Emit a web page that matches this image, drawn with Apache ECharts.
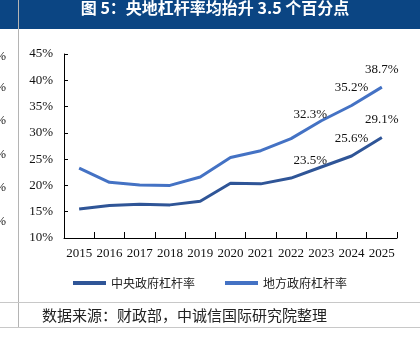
<!DOCTYPE html>
<html>
<head>
<meta charset="utf-8">
<script src="https://cdn.jsdelivr.net/npm/echarts@6/dist/echarts.min.js"></script>
<style>
  html, body { margin: 0; padding: 0; background: #fff; }
  #chart { width: 420px; height: 346px; }
</style>
</head>
<body>
<div id="chart"></div>
<script>
// Years on the category axis
const years = ['2015', '2016', '2017', '2018', '2019', '2020', '2021', '2022', '2023', '2024', '2025'];
// Government leverage ratios (%)
const centralRatio = [15.5, 16.2, 16.4, 16.3, 17.0, 20.4, 20.3, 21.4, 23.5, 25.6, 29.1];
const localRatio = [23.3, 20.6, 20.1, 20.0, 21.6, 25.3, 26.6, 28.9, 32.3, 35.2, 38.7];
// Points that carry a value label
const labelledYears = ['2023', '2024', '2025'];
const seriesNames = ['中央政府杠杆率', '地方政府杠杆率'];
const titleText = '图 5：央地杠杆率均抬升 3.5 个百分点';
const sourceText = '数据来源：财政部，中诚信国际研究院整理';
// Fragments of the neighbouring panel's axis labels at the left edge
const edgeLabels = ['%', '%', '%', '%', '%', '%'];

const serif = '"Liberation Serif", "Times New Roman", serif';
const cjk = '"Noto Sans CJK SC", sans-serif';

function labelled(values) {
  return values.map((v, i) => {
    const item = { value: v };
    if (labelledYears.includes(years[i])) {
      item.label = {
        show: true,
        offset: years[i] === '2023' ? [-11, 4] : [0, -7]
      };
    }
    return item;
  });
}

const chart = echarts.init(document.getElementById('chart'));

const graphics = [
  { type: 'rect', shape: { x: 0, y: 0, width: 420, height: 29 }, style: { fill: '#0B4583' }, silent: true },
  { type: 'text', x: 215, y: 8, style: { text: titleText, fill: '#fff', font: 'bold 16px ' + cjk, textAlign: 'center', textVerticalAlign: 'middle' } },
  { type: 'line', shape: { x1: 18.5, y1: 0, x2: 18.5, y2: 327 }, style: { stroke: '#b4b4b4', lineWidth: 1 } },
  { type: 'line', shape: { x1: 0, y1: 302.5, x2: 420, y2: 302.5 }, style: { stroke: '#c8c8c8', lineWidth: 1 } },
  { type: 'line', shape: { x1: 0, y1: 327.5, x2: 420, y2: 327.5 }, style: { stroke: '#c8c8c8', lineWidth: 1 } },
  { type: 'text', x: 42, y: 315, style: { text: sourceText, fill: '#222', font: '15px ' + cjk, textVerticalAlign: 'middle' } }
];
const edgeY = [57, 88, 121, 155, 188, 222];
edgeLabels.forEach((t, i) => {
  graphics.push({ type: 'text', x: 6, y: edgeY[i], style: { text: t, fill: '#222', font: '13px ' + serif, textAlign: 'right', textVerticalAlign: 'middle' } });
});

const valueLabel = { show: false, position: 'top', distance: 4, color: '#111', fontFamily: serif, fontSize: 13, formatter: p => p.value.toFixed(1) + '%' };

chart.setOption({
  animation: false,
  grid: { left: 64, right: 23, top: 54, bottom: 108 },
  legend: {
    bottom: 52,
    left: 'center',
    itemGap: 30,
    itemWidth: 33,
    itemHeight: 4,
    icon: 'rect',
    textStyle: { fontFamily: cjk, fontSize: 12, color: '#222' },
    data: seriesNames
  },
  xAxis: {
    type: 'category',
    data: years,
    boundaryGap: true,
    axisLine: { lineStyle: { color: '#000', width: 1 } },
    axisTick: { show: true, inside: true, length: 6, lineStyle: { color: '#000' } },
    axisLabel: { color: '#111', fontFamily: serif, fontSize: 13, margin: 9, interval: 0 }
  },
  yAxis: {
    type: 'value',
    min: 10,
    max: 45,
    interval: 5,
    axisLine: { show: true, lineStyle: { color: '#000', width: 1 } },
    axisTick: { show: true, inside: true, length: 4, lineStyle: { color: '#000' } },
    splitLine: { show: false },
    axisLabel: { color: '#111', fontFamily: serif, fontSize: 13, margin: 11, formatter: '{value}%' }
  },
  series: [
    {
      name: seriesNames[0],
      type: 'line',
      data: labelled(centralRatio),
      symbol: 'circle',
      symbolSize: 0.1,
      showSymbol: true,
      lineStyle: { color: '#2F5597', width: 3 },
      itemStyle: { color: '#2F5597' },
      label: valueLabel
    },
    {
      name: seriesNames[1],
      type: 'line',
      data: labelled(localRatio),
      symbol: 'circle',
      symbolSize: 0.1,
      showSymbol: true,
      lineStyle: { color: '#4472C4', width: 3 },
      itemStyle: { color: '#4472C4' },
      label: valueLabel
    }
  ],
  graphic: graphics
});
</script>
</body>
</html>
